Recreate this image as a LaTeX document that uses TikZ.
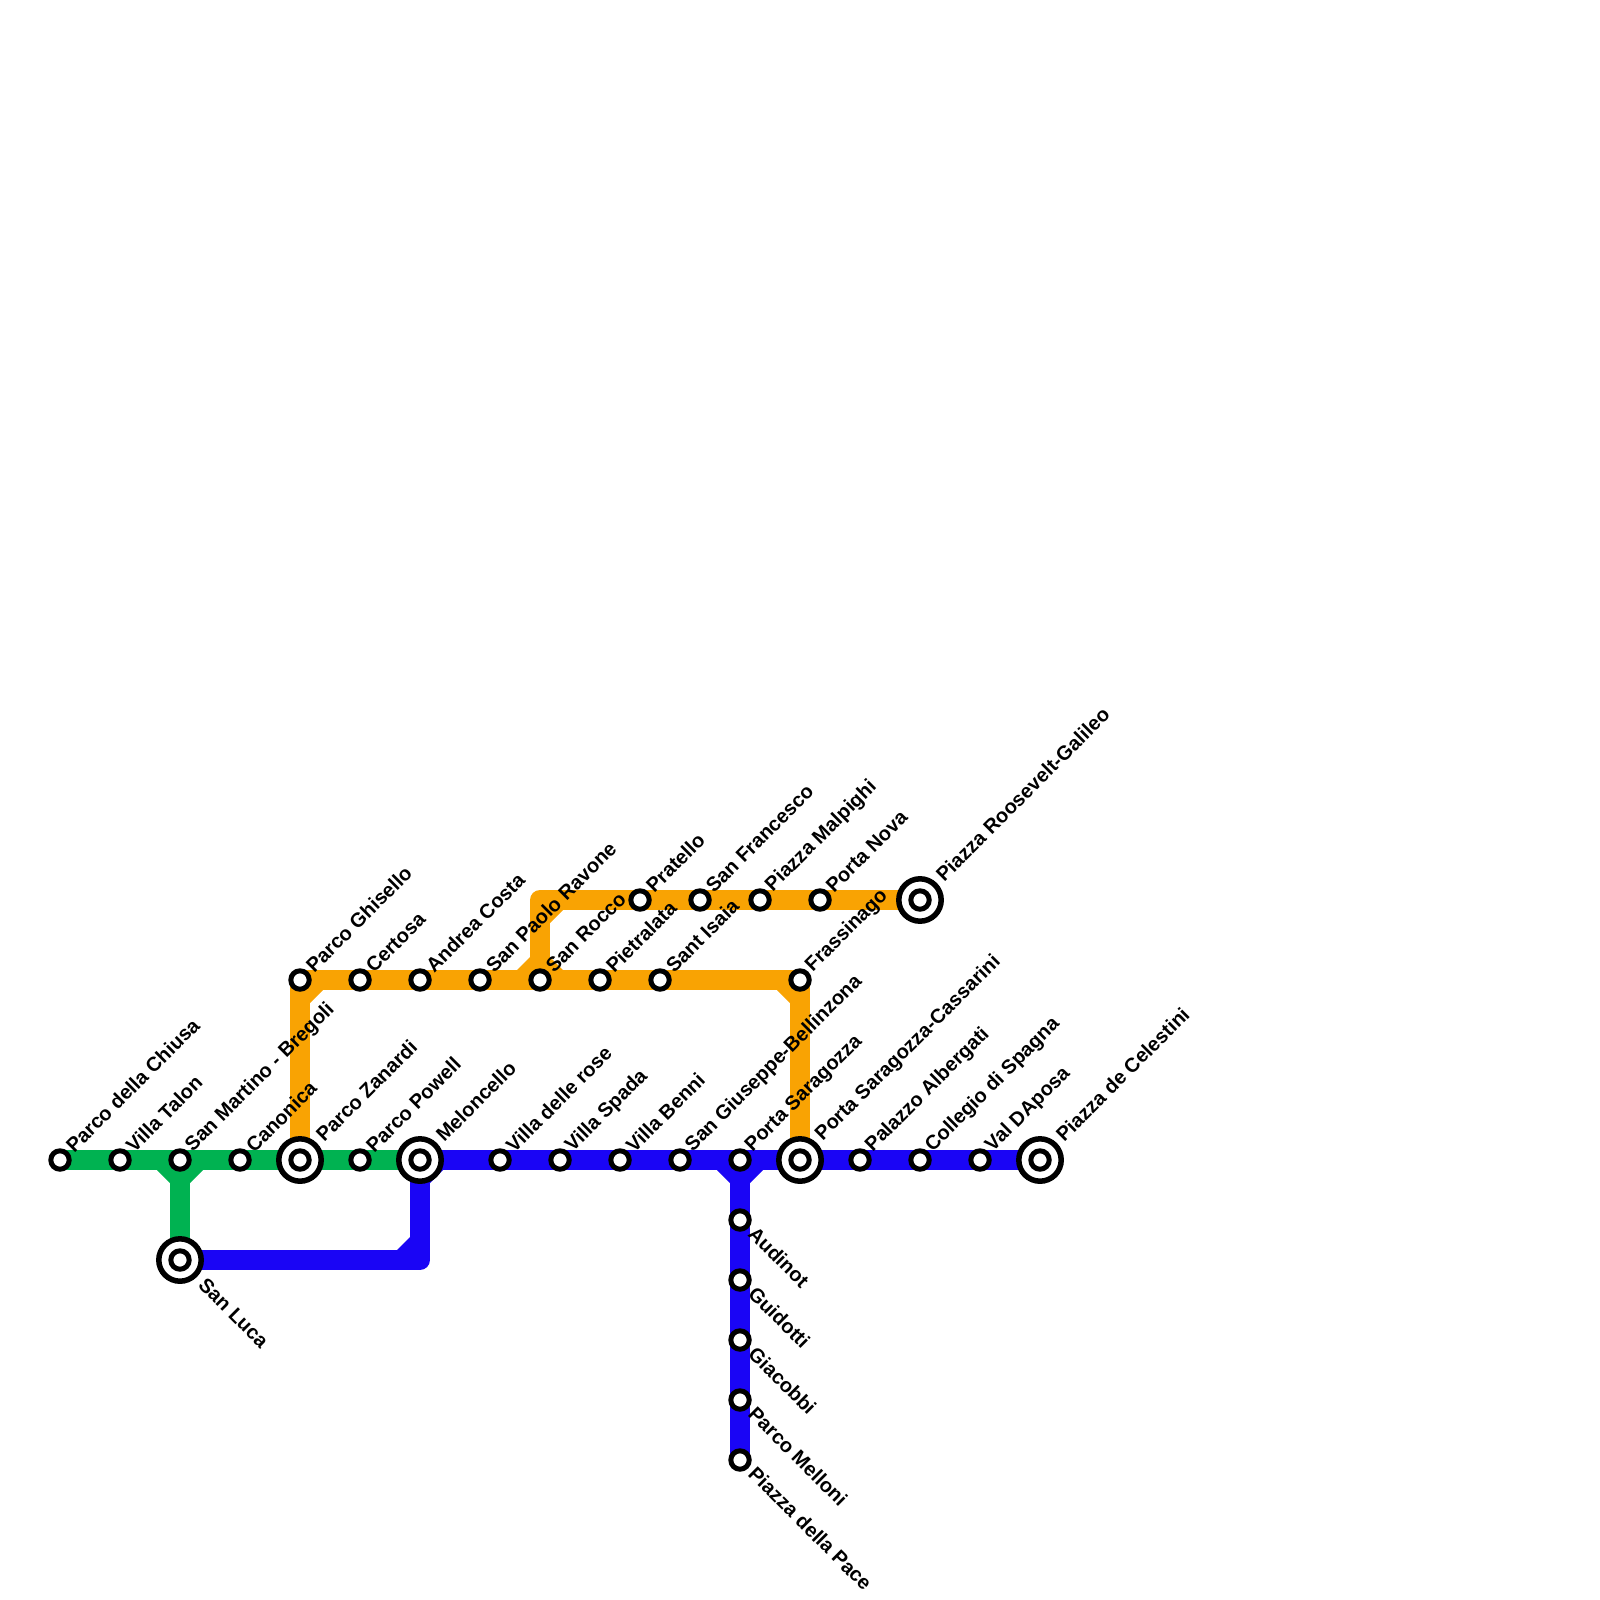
\documentclass[tikz,border=0pt]{standalone}
\usepackage{fontspec}
\setmainfont{Liberation Sans}
\usepackage{tikz}
\usetikzlibrary{backgrounds,calc}
\definecolor{greenline}{HTML}{00B251}
\definecolor{blueline}{HTML}{1A05F5}
\definecolor{orangeline}{HTML}{F9A303}

\begin{document}
\begin{tikzpicture}[
    x=0.5pt, y=-0.5pt,
    stn/.style={draw, circle, fill=white, line width=2.5pt, inner sep=0pt, minimum size=9.2pt},
    ring/.style={draw, circle, fill=white, line width=2.75pt, inner sep=0pt, minimum size=21.2pt},
    labup/.style={anchor=west, rotate=45, inner sep=0pt, font=\fontsize{10}{12}\selectfont\bfseries},
    labdn/.style={anchor=west, rotate=-45, inner sep=0pt, font=\fontsize{10}{12}\selectfont\bfseries},
    metro/.style={line width=10pt, line join=round}
  ]
    \useasboundingbox (0,0) rectangle (1600,1600);
    % interchange rings first, stations sit on them
    \foreach \a/\x/\y in {zanardi/300/1160, meloncello/420/1160, sanluca/180/1260,
                          cassarini/800/1160, roosevelt/920/900, celestini/1040/1160}
      \node[ring] (\a-ring) at (\x,\y) {};
    % stations, label above
    \foreach \a/\x/\y/\t in {chiusa/60/1160/Parco della Chiusa, talon/120/1160/Villa Talon,
        bregoli/180/1160/San Martino - Bregoli, canonica/240/1160/Canonica,
        powell/360/1160/Parco Powell, rose/500/1160/Villa delle rose,
        spada/560/1160/Villa Spada, benni/620/1160/Villa Benni,
        bellinzona/680/1160/San Giuseppe-Bellinzona, saragozza/740/1160/Porta Saragozza,
        albergati/860/1160/Palazzo Albergati, spagna/920/1160/Collegio di Spagna,
        aposa/980/1160/Val DAposa, ghisello/300/980/Parco Ghisello,
        certosa/360/980/Certosa, costa/420/980/Andrea Costa,
        ravone/480/980/San Paolo Ravone, rocco/540/980/San Rocco,
        pietralata/600/980/Pietralata, isaia/660/980/Sant Isaia,
        frassinago/800/980/Frassinago, pratello/640/900/Pratello,
        francesco/700/900/San Francesco, malpighi/760/900/Piazza Malpighi,
        nova/820/900/Porta Nova} {
      \node[stn] (\a) at (\x,\y) {};
      \node[labup] (\a-label) at ($(\a)+(9,-11)$) {\t};
    }
    \foreach \a/\x/\y/\t in {zanardi/300/1160/Parco Zanardi, meloncello/420/1160/Meloncello,
        cassarini/800/1160/Porta Saragozza-Cassarini, roosevelt/920/900/Piazza Roosevelt-Galileo,
        celestini/1040/1160/Piazza de Celestini} {
      \node[stn] (\a) at (\x,\y) {};
      \node[labup] (\a-label) at ($(\a)+(19,-22)$) {\t};
    }
    % stations, label below
    \foreach \a/\x/\y/\t in {audinot/740/1220/Audinot, guidotti/740/1280/Guidotti,
        giacobbi/740/1340/Giacobbi, melloni/740/1400/Parco Melloni,
        pace/740/1460/Piazza della Pace} {
      \node[stn] (\a) at (\x,\y) {};
      \node[labdn] (\a-label) at ($(\a)+(12,10)$) {\t};
    }
    \node[stn] (sanluca) at (180,1260) {};
    \node[labdn] (sanluca-label) at ($(sanluca)+(22,21)$) {San Luca};
    \coordinate (bend1) at (420,1260);
    \coordinate (bend2) at (540,900);

    \begin{pgfonlayer}{background}
      \draw[metro, greenline] (chiusa.center) -- (meloncello.center);
      \draw[metro, greenline] (bregoli.center) -- (sanluca.center);
      \draw[metro, blueline] (sanluca.center) -- (bend1) -- (meloncello.center) -- (celestini.center);
      \draw[metro, blueline] (saragozza.center) -- (pace.center);
      \draw[metro, orangeline] (zanardi.center) -- (ghisello.center) -- (frassinago.center) -- (cassarini.center);
      \draw[metro, orangeline] (rocco.center) -- (bend2) -- (roosevelt.center);
      % inner corners
      \foreach \c/\a/\sx/\sy in {greenline/bregoli/-1/1, greenline/bregoli/1/1,
          blueline/saragozza/-1/1, blueline/saragozza/1/1, blueline/meloncello/1/1,
          blueline/bend1/-1/-1, orangeline/ghisello/1/1, orangeline/frassinago/-1/1,
          orangeline/rocco/-1/-1, orangeline/rocco/1/-1, orangeline/bend2/1/1}
        \fill[\c] ($(\a)+(\sx*10,\sy*10)$) -- ($(\a)+(\sx*23,\sy*10)$) -- ($(\a)+(\sx*10,\sy*23)$) -- cycle;
    \end{pgfonlayer}
  \end{tikzpicture}
\end{document}
